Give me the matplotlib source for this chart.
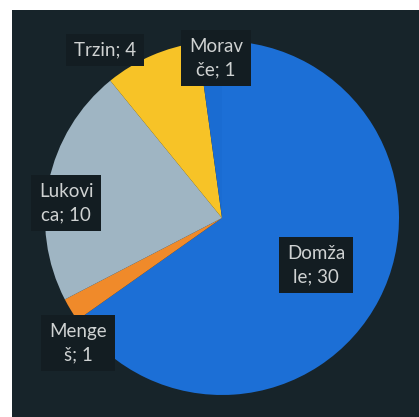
import matplotlib
matplotlib.use("Agg")
import matplotlib.pyplot as plt
from matplotlib.patches import Rectangle

# Data
categories = ["Domžale", "Mengeš", "Lukovica", "Trzin", "Moravče"]
values = [30, 1, 10, 4, 1]
label_lines = [("Domža", "le; 30"), ("Menge", "š; 1"), ("Lukovi", "ca; 10"),
               ("Trzin; 4",), ("Morav", "če; 1")]

colors = ["#1c6fd6", "#f08a2a", "#9fb5c3", "#f7c327", "#1a6cd2"]
# label centers in pixel coordinates (x from left, y from top)
label_pos = [(316, 265), (78, 343), (66, 203), (105, 50), (216, 58)]

W, H = 419, 417
fig = plt.figure(figsize=(W / 100, H / 100), dpi=100, facecolor="white")
ax = fig.add_axes([0, 0, 1, 1])
ax.set_axis_off()

# dark chart area
ax.add_patch(Rectangle((12, 0), W - 12, H - 10, facecolor="#17242a",
                       edgecolor="none", zorder=0))

ax.pie(values, colors=colors, startangle=90, counterclock=False,
       center=(222, H - 218), radius=177,
       wedgeprops=dict(linewidth=0, zorder=1))

ax.set_xlim(0, W)
ax.set_ylim(0, H)
ax.set_aspect("auto")

for lines, (px, py) in zip(label_lines, label_pos):
    ax.text(px, H - py, "\n".join(lines), ha="center", va="center",
            color="#cfd2d2", fontsize=13.5, family=["Lato", "DejaVu Sans"],
            linespacing=1.45, zorder=3,
            bbox=dict(boxstyle="square,pad=0.42", facecolor="#131d22",
                      edgecolor="none"))

fig.savefig("out.png", dpi=100, facecolor="white")
